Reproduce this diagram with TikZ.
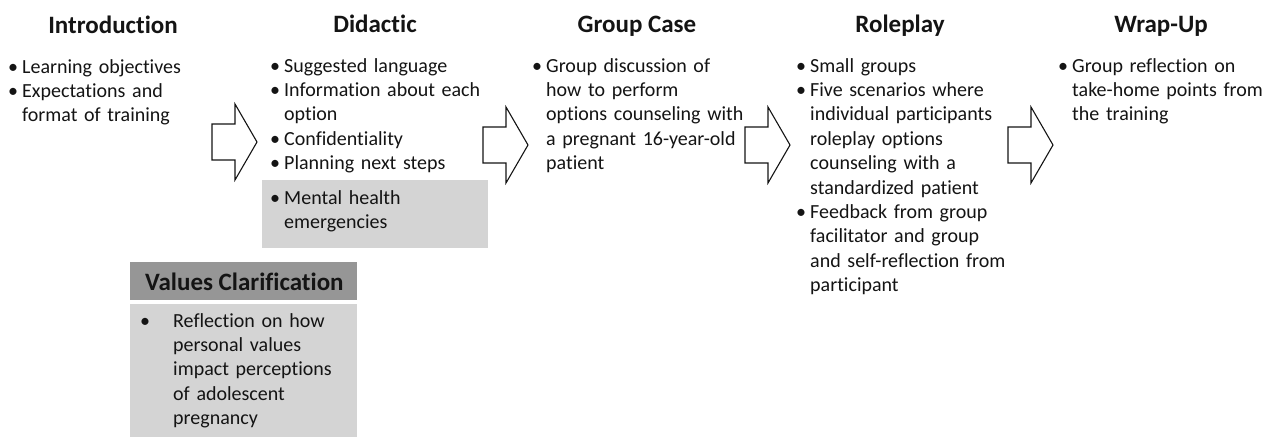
\documentclass[tikz,border=0pt]{standalone}
\usepackage{fontspec}
\setmainfont{Carlito}[Ligatures={NoCommon,NoRare}]
\definecolor{headgray}{RGB}{150,150,150}
\definecolor{boxgray}{RGB}{212,212,212}
\definecolor{inkcol}{RGB}{20,20,20}
\newcommand{\bul}{\leavevmode\llap{•\hspace{4pt}}}
\newcommand{\vbul}{\leavevmode\llap{•\hspace{23pt}}}
\begin{document}
\begin{tikzpicture}[x=1pt,y=-1pt,
  title/.style={anchor=base,inner sep=0pt,font=\fontsize{25}{30}\selectfont\bfseries,text=inkcol},
  body/.style={anchor=base west,inner sep=0pt,text width=245pt,align=left,font=\fontsize{20}{24.4}\selectfont,text=inkcol},
  blockarr/.style={draw=inkcol,line width=1.1pt,fill=white,line join=miter},
  graybox/.style={fill=boxgray,draw=none},
  headbox/.style={fill=headgray,draw=none}]
\useasboundingbox (0,0) rectangle (1267,437);
\fill[white] (0,0) rectangle (1267,437);

% gray boxes
\path[graybox] (262,180) rectangle (488,248);
\path[headbox] (130,262) rectangle (357,300);
\path[graybox] (130,304) rectangle (357,437);

% titles
\node[title] (tIntro) at (113,33) {Introduction};
\node[title] (tDid) at (375,32) {Didactic};
\node[title] (tGroup) at (637,32) {Group Case};
\node[title] (tRole) at (900,32) {Roleplay};
\node[title] (tWrap) at (1161,32) {Wrap-Up};
\node[title,anchor=base west] (tVal) at (145,290) {Values Clarification};

% bodies
\node[body] (bIntro) at (22,73) {\bul Learning objectives\\
\bul Expectations and\\
format of training};

\node[body] (bDid) at (284,72) {\bul Suggested language\\
\bul Information about each\\
option\\
\bul Confidentiality\\
\bul Planning next steps};

\node[body] (bMental) at (284,204) {\bul Mental health\\
emergencies};

\node[body] (bGroup) at (546,72) {\bul Group discussion of\\
how to perform\\
options counseling with\\
a pregnant 16-year-old\\
patient};

\node[body] (bRole) at (810,72) {\bul Small groups\\
\bul Five scenarios where\\
individual participants\\
roleplay options\\
counseling with a\\
standardized patient\\
\bul Feedback from group\\
facilitator and group\\
and self-reflection from\\
participant};

\node[body] (bWrap) at (1072,72) {\bul Group reflection on\\
take-home points from\\
the training};

\node[body] (bVal) at (173,327) {\vbul Reflection on how\\
personal values\\
impact perceptions\\
of adolescent\\
pregnancy};

% block arrows
\coordinate (a1) at (212,142);
\coordinate (a2) at (483,145);
\coordinate (a3) at (745,145);
\coordinate (a4) at (1008,145);
\foreach \a in {a1,a2,a3,a4}{
  \draw[blockarr] (\a) ++(0,-18) -- ++(23,0) -- ++(0,-20) -- ++(22,38)
    -- ++(-22,38) -- ++(0,-20) -- ++(-23,0) -- cycle;
}
\end{tikzpicture}
\end{document}
